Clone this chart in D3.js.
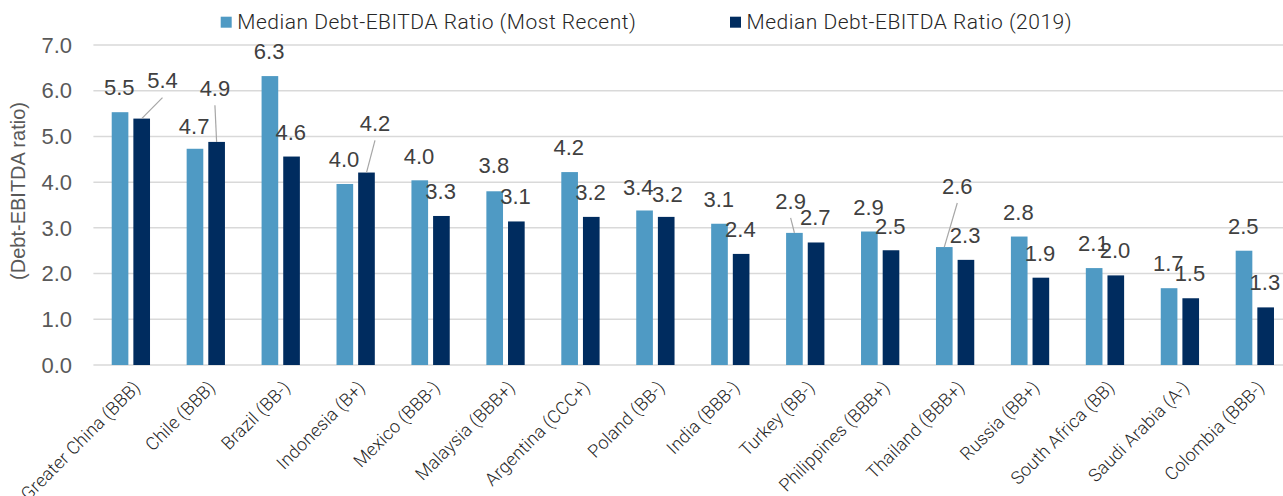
<!DOCTYPE html>
<html>
<head>
<meta charset="utf-8">
<script src="https://cdn.jsdelivr.net/npm/d3@7"></script>
<style>
  html, body { margin: 0; padding: 0; background: #fff; }
  svg { display: block; }
</style>
</head>
<body>
<svg id="chart" width="1283" height="496"></svg>
<script>
// ---- data ----
const categories = [
  "Greater China (BBB)", "Chile (BBB)", "Brazil (BB-)", "Indonesia (B+)",
  "Mexico (BBB-)", "Malaysia (BBB+)", "Argentina (CCC+)", "Poland (BB-)",
  "India (BBB-)", "Turkey (BB-)", "Philippines (BBB+)", "Thailand (BBB+)",
  "Russia (BB+)", "South Africa (BB)", "Saudi Arabia (A-)", "Colombia (BBB-)"
];
const seriesNames = [
  "Median Debt-EBITDA Ratio (Most Recent)",
  "Median Debt-EBITDA Ratio (2019)"
];
const recentValues = [5.53, 4.73, 6.32, 3.96, 4.04, 3.80, 4.22, 3.38, 3.09, 2.89, 2.92, 2.58, 2.81, 2.12, 1.68, 2.50];
const values2019   = [5.39, 4.88, 4.56, 4.21, 3.26, 3.14, 3.24, 3.24, 2.43, 2.68, 2.51, 2.30, 1.91, 1.96, 1.46, 1.26];
const yTicks = [0, 1, 2, 3, 4, 5, 6, 7];
const yAxisTitle = "(Debt-EBITDA ratio)";

// ---- label placement tweaks (layout only): [dx, dy, leader] ----
const recentLabelNudge = [
  [0,0,0],[0,2,0],[0,0,0],[0,0,0],[0,1,0],[0,-1,0],[0,0,0],[-5.5,2,0],
  [0,0,0],[-3,-7.3,1],[0,0,0],[13.8,-36.4,1],[0,0,0],[0,0,0],[0,0,0],[0,0,0]
];
const label2019Nudge = [
  [21.6,-13.3,1],[-0.9,-29,1],[0,0,0],[9.3,-24.5,1],[0,0,0],[0,0,0],[0,0,0],[2,2,0],
  [0,0,0],[0,0,0],[0,1,0],[0,0,0],[0,0,0],[0,0,0],[0,0,0],[0,0,0]
];

const colors = ["#4F9AC4", "#002C5F"];

const svg = d3.select("#chart");

const x0 = d3.scaleBand().domain(categories).range([93.4, 1292.3]).padding(0);
const x1 = d3.scaleBand().domain([0, 1]).range([-19.15, 19.15]).paddingInner(0.231).paddingOuter(0);
const y = d3.scaleLinear().domain([0, 7]).range([365, 45]);

// gridlines
svg.append("g").selectAll("line").data(yTicks).join("line")
  .attr("x1", x0.range()[0]).attr("x2", 1283)
  .attr("y1", d => y(d)).attr("y2", d => y(d))
  .attr("stroke", "#d9d9d9").attr("stroke-width", 1.5);

// y tick labels
svg.append("g").selectAll("text").data(yTicks).join("text")
  .attr("x", 72).attr("y", d => y(d)).attr("dy", "0.35em")
  .attr("text-anchor", "end")
  .attr("font-family", "Liberation Sans, Arial, sans-serif")
  .attr("font-size", 22).attr("fill", "#595959")
  .text(d => d3.format(".1f")(d));

// y axis title
svg.append("text")
  .attr("transform", "translate(17.5,191) rotate(-90)")
  .attr("text-anchor", "middle").attr("dy", "0.35em")
  .attr("font-family", "Liberation Sans, Arial, sans-serif")
  .attr("font-size", 20).attr("fill", "#595959")
  .text(yAxisTitle);

const allSeries = [recentValues, values2019];
const nudges = [recentLabelNudge, label2019Nudge];

const rows = [];
allSeries.forEach((vals, s) => vals.forEach((v, i) => rows.push({ s, i, v, cat: categories[i] })));

const cx = d => x0(d.cat) + x0.bandwidth() / 2 + x1(d.s) + x1.bandwidth() / 2;

// bars
svg.append("g").selectAll("rect").data(rows).join("rect")
  .attr("x", d => x0(d.cat) + x0.bandwidth() / 2 + x1(d.s))
  .attr("width", x1.bandwidth())
  .attr("y", d => y(d.v))
  .attr("height", d => y(0) - y(d.v))
  .attr("fill", d => colors[d.s]);

// leader lines
const lx = d => cx(d) - 0.8 + nudges[d.s][d.i][0];
const ly = d => y(d.v) - 24.7 + nudges[d.s][d.i][1];
svg.append("g").selectAll("line").data(rows.filter(d => nudges[d.s][d.i][2])).join("line")
  .attr("x1", d => cx(d)).attr("y1", d => y(d.v))
  .attr("x2", d => lx(d)).attr("y2", d => ly(d) + 17)
  .attr("stroke", "#a6a6a6").attr("stroke-width", 1.2);

// value labels
svg.append("g").selectAll("text").data(rows).join("text")
  .attr("x", lx).attr("y", ly).attr("dy", "0.35em")
  .attr("text-anchor", "middle")
  .attr("font-family", "Liberation Sans, Arial, sans-serif")
  .attr("font-size", 22).attr("fill", "#404040")
  .text(d => d3.format(".1f")(d.v));

// x category labels
svg.append("g").selectAll("text").data(categories).join("text")
  .attr("transform", d => `translate(${x0(d) + x0.bandwidth() / 2 + 6},${384}) rotate(-45)`)
  .attr("text-anchor", "end").attr("dy", "0.35em")
  .attr("font-family", "Roboto, sans-serif").attr("font-weight", 300)
  .attr("font-size", 18).attr("letter-spacing", 0.15).attr("fill", "#262626")
  .text(d => d);

// legend
const legendX = [220.7, 730];
const leg = svg.append("g").selectAll("g").data(seriesNames).join("g")
  .attr("transform", (d, i) => `translate(${legendX[i]},0)`);
leg.append("rect").attr("x", 0).attr("y", 16.7).attr("width", 11).attr("height", 11)
  .attr("fill", (d, i) => colors[i]);
leg.append("text").attr("x", 16.6).attr("y", 29.3)
  .attr("font-family", "Roboto, sans-serif").attr("font-weight", 300)
  .attr("font-size", 21).attr("letter-spacing", 0.5).attr("fill", "#262626")
  .text(d => d);
</script>
</body>
</html>
